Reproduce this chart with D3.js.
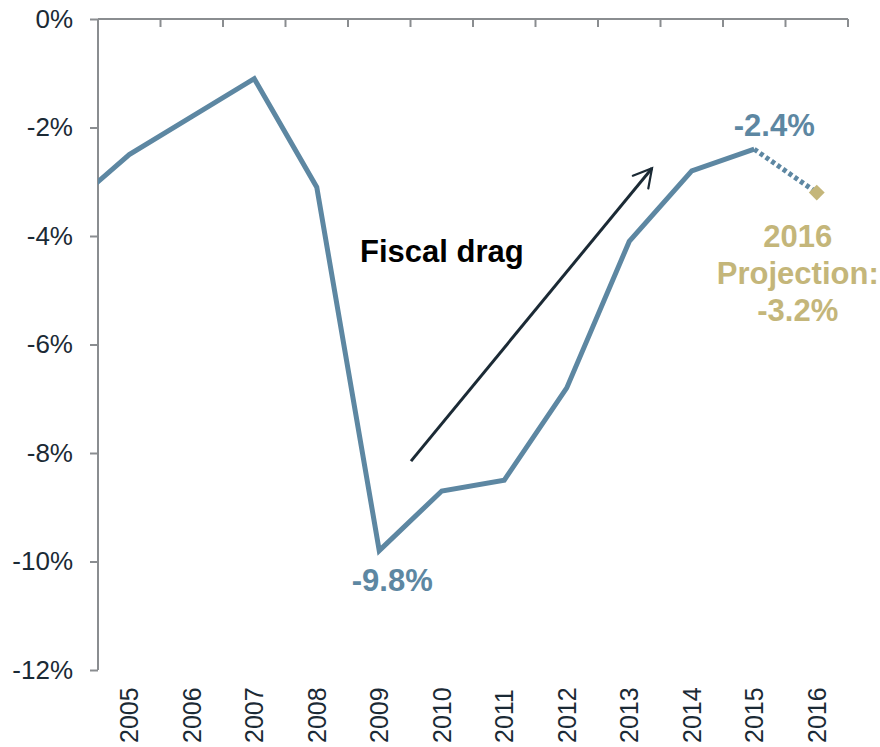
<!DOCTYPE html>
<html>
<head>
<meta charset="utf-8">
<script src="https://cdn.jsdelivr.net/npm/d3@7"></script>
<style>
  html, body { margin: 0; padding: 0; background: #fff; }
  svg { display: block; font-family: "Liberation Sans", Arial, sans-serif; }
</style>
</head>
<body>
<svg id="chart" width="880" height="747"></svg>
<script>
// Budget balance, % of GDP
const years = [2005, 2006, 2007, 2008, 2009, 2010, 2011, 2012, 2013, 2014, 2015, 2016];
const priorYear = 2004;
const priorValue = -3.5;           // runs in from the left edge, clipped
const actualYears = [2005, 2006, 2007, 2008, 2009, 2010, 2011, 2012, 2013, 2014, 2015];
const actualValues = [-2.5, -1.8, -1.1, -3.1, -9.8, -8.7, -8.5, -6.8, -4.1, -2.8, -2.4];
const projectionYears = [2015, 2016];
const projectionValues = [-2.4, -3.2];
const yTicks = [0, -2, -4, -6, -8, -10, -12];

const W = 880, H = 747;
const plotLeft = 98, plotRight = 848, plotTop = 19, plotBottom = 670;

const blue = "#5d87a2";
const gold = "#c4b67a";
const axisGrey = "#8a8d90";
const textDark = "#1b2a35";

const svg = d3.select("#chart");

const x = d3.scaleBand().domain(years).range([plotLeft, plotRight]).padding(0);
const bw = x.bandwidth();
const cx = yr => (yr < years[0] ? x(years[0]) - bw * (years[0] - yr) : x(yr)) + bw / 2;
const y = d3.scaleLinear().domain([-12, 0]).range([plotBottom, plotTop]);

const defs = svg.append("defs");
defs.append("clipPath").attr("id", "plot")
  .append("rect").attr("x", plotLeft).attr("y", 0).attr("width", plotRight - plotLeft).attr("height", H);

// Top category axis (zero line) with boundary ticks
svg.append("line")
  .attr("x1", plotLeft).attr("x2", plotRight).attr("y1", y(0)).attr("y2", y(0))
  .attr("stroke", axisGrey).attr("stroke-width", 2);
svg.append("g").selectAll("line").data(years).join("line")
  .attr("x1", d => x(d) + bw).attr("x2", d => x(d) + bw)
  .attr("y1", y(0)).attr("y2", y(0) + 8)
  .attr("stroke", axisGrey).attr("stroke-width", 2);

// Rotated year labels at the bottom
svg.append("g").selectAll("text").data(years).join("text")
  .attr("transform", d => `translate(${cx(d) + 9},${743}) rotate(-90)`)
  .attr("text-anchor", "start")
  .attr("font-size", 25)
  .attr("fill", textDark)
  .text(d => d);

// Left value axis
const yAxis = svg.append("g").attr("transform", `translate(${plotLeft},0)`)
  .call(d3.axisLeft(y).tickValues(yTicks).tickSize(8).tickPadding(17).tickFormat(d => d + "%"));
yAxis.select(".domain").attr("stroke", axisGrey).attr("stroke-width", 2)
  .attr("d", `M0,${y(0)}V${y(-12)}`);
yAxis.selectAll(".tick line").attr("stroke", axisGrey).attr("stroke-width", 2);
yAxis.selectAll(".tick text").attr("font-size", 26).attr("fill", textDark)
  .attr("font-family", "'Liberation Sans', Arial, sans-serif");

// Actual series
const line = d3.line().x(d => cx(d[0])).y(d => y(d[1]));
const actualPts = [[priorYear, priorValue]].concat(actualYears.map((yr, i) => [yr, actualValues[i]]));
svg.append("path").datum(actualPts)
  .attr("clip-path", "url(#plot)")
  .attr("d", line)
  .attr("fill", "none").attr("stroke", blue).attr("stroke-width", 5)
  .attr("stroke-linejoin", "miter");

// Projection segment
const projPts = projectionYears.map((yr, i) => [yr, projectionValues[i]]);
svg.append("path").datum(projPts)
  .attr("d", line)
  .attr("fill", "none").attr("stroke", blue).attr("stroke-width", 5)
  .attr("stroke-dasharray", "4,3");

// Projection marker
const last = projPts[projPts.length - 1];
svg.append("path")
  .attr("d", d3.symbol().type(d3.symbolDiamond2).size(160)())
  .attr("transform", `translate(${cx(last[0])},${y(last[1])})`)
  .attr("fill", gold);

// Value callouts
svg.append("text").attr("x", cx(2009) + 13).attr("y", y(-9.8) + 40)
  .attr("text-anchor", "middle").attr("font-size", 31).attr("font-weight", "bold")
  .attr("fill", blue).text("-9.8%");
svg.append("text").attr("x", cx(2015) + 20).attr("y", y(-2.4) - 13)
  .attr("text-anchor", "middle").attr("font-size", 31).attr("font-weight", "bold")
  .attr("fill", blue).text("-2.4%");

const projLabel = svg.append("text").attr("text-anchor", "middle")
  .attr("font-size", 31).attr("font-weight", "bold").attr("fill", gold);
["2016", "Projection:", "-3.2%"].forEach((t, i) => {
  projLabel.append("tspan").attr("x", cx(2016) - 19).attr("y", 247 + i * 37).text(t);
});

// Fiscal drag annotation
defs.append("marker")
  .attr("id", "arrowhead").attr("viewBox", "0 0 12 12").attr("refX", 10.5).attr("refY", 6)
  .attr("markerWidth", 8).attr("markerHeight", 8).attr("markerUnits", "strokeWidth")
  .attr("orient", "auto")
  .append("path").attr("d", "M1.5,1 L10.5,6 L1.5,11")
  .attr("fill", "none").attr("stroke", "#1b2a35").attr("stroke-width", 1.1)
  .attr("stroke-linecap", "round").attr("stroke-linejoin", "miter");
svg.append("line")
  .attr("x1", 411).attr("y1", y(-8.15)).attr("x2", 652).attr("y2", y(-2.75))
  .attr("stroke", "#1b2a35").attr("stroke-width", 3)
  .attr("marker-end", "url(#arrowhead)");
svg.append("text").attr("x", 360).attr("y", 262)
  .attr("font-size", 31).attr("font-weight", "bold").attr("fill", "#000")
  .text("Fiscal drag");
</script>
</body>
</html>
